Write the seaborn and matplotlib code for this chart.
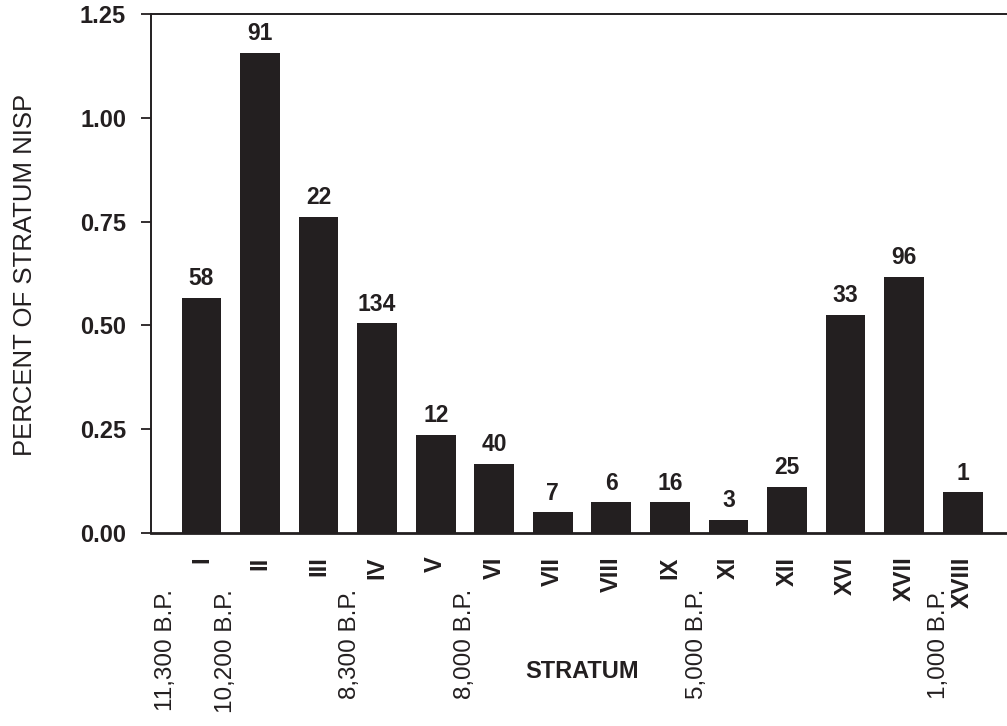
import matplotlib
matplotlib.use("Agg")
import matplotlib.pyplot as plt
import seaborn as sns
import pandas as pd

# Percent of stratum NISP per stratum, with the specimen count (NISP) shown above each bar
strata = ["I", "II", "III", "IV", "V", "VI", "VII", "VIII", "IX", "XI", "XII", "XVI", "XVII", "XVIII"]
percent_nisp = [0.566, 1.157, 0.762, 0.505, 0.237, 0.167, 0.050, 0.074, 0.074, 0.031, 0.111, 0.525, 0.617, 0.098]
nisp_counts = [58, 91, 22, 134, 12, 40, 7, 6, 16, 3, 25, 33, 96, 1]

# Radiocarbon dates placed between strata
date_labels = ["11,300 B.P.", "10,200 B.P.", "8,300 B.P.", "8,000 B.P.", "5,000 B.P.", "1,000 B.P."]
date_positions = [-0.6, 0.42, 2.54, 4.5, 8.47, 12.6]

y_ticks = [0.00, 0.25, 0.50, 0.75, 1.00, 1.25]

INK = "#231f20"

sns.set_style("ticks")
plt.rcParams["font.family"] = ["Liberation Sans", "DejaVu Sans"]
plt.rcParams["text.color"] = INK
plt.rcParams["axes.edgecolor"] = INK
plt.rcParams["xtick.color"] = INK
plt.rcParams["ytick.color"] = INK

df = pd.DataFrame({"stratum": strata, "percent": percent_nisp})

W, H = 1007, 726
fig = plt.figure(figsize=(W / 100, H / 100), dpi=100)
ax = fig.add_axes([151 / W, 193 / H, (W - 151) / W, 519 / H])

sns.barplot(data=df, x="stratum", y="percent", order=strata, color=INK,
            saturation=1, width=0.68, edgecolor="none", ax=ax)

ax.bar_label(ax.containers[0], labels=[str(n) for n in nisp_counts],
             padding=5.5, fontsize=16.5, fontweight="bold", color=INK)

ax.set_xlim(-0.862, 13.757)
ax.set_ylim(0, 1.25)
ax.set_yticks(y_ticks)
ax.set_yticklabels([f"{v:.2f}" for v in y_ticks], fontsize=17, fontweight="bold")
ax.tick_params(axis="y", direction="out", length=7, width=1.3, pad=11)
ax.tick_params(axis="x", length=0, pad=17)
for lab in ax.get_xticklabels():
    lab.set_rotation(90)
    lab.set_fontsize(17)
    lab.set_fontweight("bold")
    lab.set_va("top")
    lab.set_ha("center")

ax.set_xlabel("")
ax.set_ylabel("")

for side in ["left", "top", "bottom"]:
    ax.spines[side].set_visible(True)
    ax.spines[side].set_linewidth(1.4)
    ax.spines[side].set_color(INK)
ax.spines["right"].set_visible(False)
ax.spines["bottom"].set_linewidth(2.0)

xform = ax.get_xaxis_transform()
for lbl, xp in zip(date_labels, date_positions):
    ax.text(xp, -0.108, lbl, transform=xform, rotation=90, ha="center", va="top",
            fontsize=17.5, color=INK, clip_on=False)

fig.text(582 / W, 1 - 672 / H, "STRATUM", ha="center", va="center",
         fontsize=17, fontweight="bold", color=INK)
fig.text(25 / W, 1 - 275 / H, "PERCENT OF STRATUM NISP", ha="center", va="center",
         rotation=90, fontsize=18.5, color=INK)

fig.savefig("out.png", dpi=100)
